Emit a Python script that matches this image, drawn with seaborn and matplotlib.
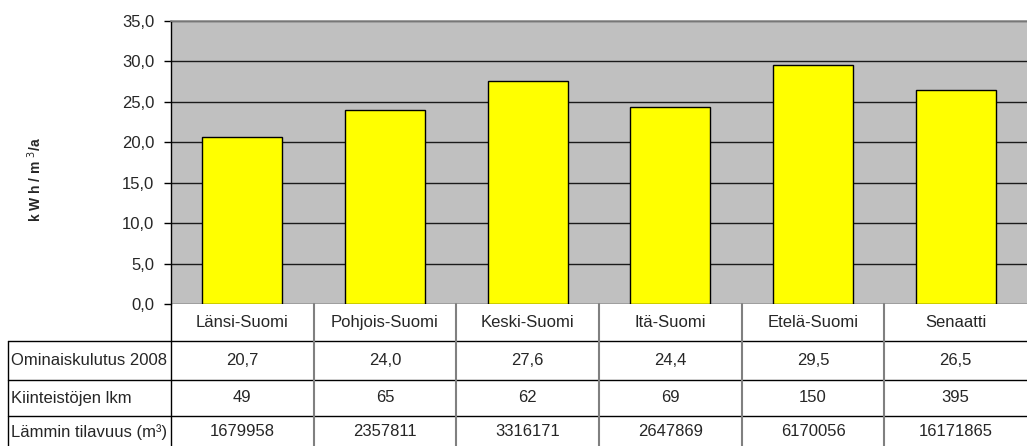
import matplotlib
matplotlib.use("Agg")
import matplotlib.pyplot as plt
import matplotlib.transforms as mtransforms
from matplotlib.lines import Line2D
import seaborn as sns
import pandas as pd

# Data
regions = ["Länsi-Suomi", "Pohjois-Suomi", "Keski-Suomi", "Itä-Suomi", "Etelä-Suomi", "Senaatti"]
consumption_2008 = [20.7, 24.0, 27.6, 24.4, 29.5, 26.5]
property_count = [49, 65, 62, 69, 150, 395]
heated_volume = [1679958, 2357811, 3316171, 2647869, 6170056, 16171865]
row_labels = ["Ominaiskulutus 2008", "Kiinteistöjen lkm", "Lämmin tilavuus (m³)"]
y_ticks = [0, 5, 10, 15, 20, 25, 30, 35]
y_label = "k W h / m $^{3}$/a"

sns.set_theme(style="white")
plt.rcParams["font.family"] = ["Liberation Sans", "DejaVu Sans"]

W, H = 1027, 446
fig = plt.figure(figsize=(W / 100, H / 100), dpi=100)
fig.patch.set_facecolor("white")

# plot area in pixel units
left, right, top, bottom = 171, 1027, 21, 304
ax = fig.add_axes([left / W, 1 - bottom / H, (right - left) / W, (bottom - top) / H])

df = pd.DataFrame({"region": regions, "value": consumption_2008})
sns.barplot(data=df, x="region", y="value", ax=ax, color="#FFFF00",
            saturation=1, width=0.56, edgecolor="black", linewidth=1.0, zorder=3)

ax.set_facecolor("#C0C0C0")
ax.set_ylim(0, 35)
ax.set_xlim(-0.5, len(regions) - 0.5)
ax.set_yticks(y_ticks)
ax.set_yticklabels([f"{v:.1f}".replace(".", ",") for v in y_ticks], fontsize=12)
ax.tick_params(axis="y", length=5, width=1, color="black", pad=7, left=True)
ax.set_xticks([])
ax.set_xlabel("")
ax.set_ylabel("")
ax.yaxis.grid(True, color="#1a1a1a", linewidth=1.0, zorder=1)
ax.set_axisbelow(True)
for name, sp in ax.spines.items():
    sp.set_visible(False)
ax.spines["left"].set_visible(True)
ax.spines["left"].set_color("black")
ax.spines["left"].set_linewidth(1.0)
ax.spines["top"].set_visible(True)
ax.spines["top"].set_color("#8a8a8a")
ax.spines["top"].set_linewidth(1.2)

fig.text(35 / W, 1 - 179 / H, y_label, rotation=90, ha="center", va="center",
         fontsize=10, fontweight="bold")

# data table below the chart
tr = mtransforms.blended_transform_factory(ax.transData, fig.transFigure)
fy = lambda py: 1 - py / H
fx = lambda px: px / W

row_edges = [304, 341, 380, 416, 446]
# horizontal rules
for y in row_edges[1:4]:
    fig.add_artist(Line2D([fx(8), fx(W)], [fy(y), fy(y)], transform=fig.transFigure,
                          color="black", linewidth=1.0))
# outer left borders
fig.add_artist(Line2D([fx(8), fx(8)], [fy(341), fy(446)], transform=fig.transFigure,
                      color="black", linewidth=1.0))
fig.add_artist(Line2D([fx(left), fx(left)], [fy(304), fy(446)], transform=fig.transFigure,
                      color="black", linewidth=1.0))
# column separators
for i in range(1, len(regions)):
    fig.add_artist(Line2D([i - 0.5, i - 0.5], [fy(304), fy(446)], transform=tr,
                          color="#808080", linewidth=1.5))

cell_size = 12
ycent = [(row_edges[k] + row_edges[k + 1]) / 2 for k in range(4)]
ycent[3] = 432
for i, r in enumerate(regions):
    fig.text(i, fy(ycent[0]), r, transform=tr, ha="center", va="center", fontsize=cell_size)
    fig.text(i, fy(ycent[1]), f"{consumption_2008[i]:.1f}".replace(".", ","), transform=tr,
             ha="center", va="center", fontsize=cell_size)
    fig.text(i, fy(ycent[2]), str(property_count[i]), transform=tr,
             ha="center", va="center", fontsize=cell_size)
    fig.text(i, fy(ycent[3]), str(heated_volume[i]), transform=tr,
             ha="center", va="center", fontsize=cell_size)

for k, lab in enumerate(row_labels):
    fig.text(fx(11), fy(ycent[k + 1]), lab, ha="left", va="center", fontsize=cell_size)

fig.savefig("out.png", dpi=100)
